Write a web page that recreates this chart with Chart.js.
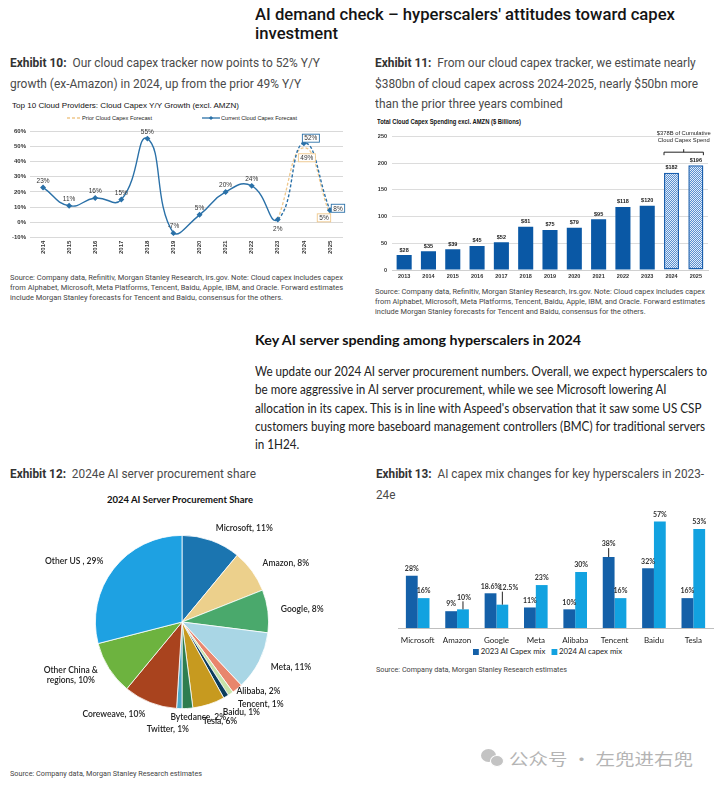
<!DOCTYPE html>
<html>
<head>
<meta charset="utf-8">
<title>AI demand check</title>
<script src="https://cdn.jsdelivr.net/npm/chart.js@4.4.1/dist/chart.umd.min.js"></script>
<style>
  html, body { margin: 0; padding: 0; background: #fff; }
  body { position: relative; width: 717px; height: 786px; overflow: hidden; color: #333; }
  .t { position: absolute; white-space: nowrap; transform-origin: 0 0; }
  .hd { font: 500 17px/18.5px Roboto, sans-serif; color: #141414; }
  .cap { font: 400 12.5px/20.5px Roboto, sans-serif; color: #4a4a4a; }
  .cap b { color: #333; font-weight: 700; }
  .src { font: 400 7px/10px Roboto, sans-serif; color: #444; }
  .ctitle { font: 400 7.5px/10px "Liberation Sans", Arial, sans-serif; color: #111; }
  .ctitle.b { font-weight: 700; font-size: 6.5px; }
  .kh { font: 700 14px/18px Lato, sans-serif; color: #111; }
  .para { font: 400 12.5px/18.3px Lato, sans-serif; color: #222; }
  .pt { font: 700 9px/12px Lato, sans-serif; color: #111; }
  .lg { font: 400 6px/8px "Liberation Sans", sans-serif; color: #222; }
  .lg13 { font: 400 8px/10px Lato, sans-serif; color: #222; }
  .wm { font: 400 16px/20px "Noto Sans CJK SC", sans-serif; color: #b4b4b4; }
  .sq { display: inline-block; width: 6px; height: 6px; margin-right: 2px; vertical-align: -0.5px; }
  canvas { position: absolute; }
  .dot { position: absolute; background: #c3c3c3; border-radius: 50%; }
</style>
</head>
<body>

<div class="t hd" style="left:255px;top:5px" data-w="420">AI demand check – hyperscalers' attitudes toward capex<br>investment</div>

<div class="t cap" style="left:10px;top:53px" data-w="310"><b>Exhibit 10:</b>&nbsp; Our cloud capex tracker now points to 52% Y/Y<br>growth (ex-Amazon) in 2024, up from the prior 49% Y/Y</div>
<div class="t cap" style="left:375px;top:53px" data-w="323"><b>Exhibit 11:</b>&nbsp; From our cloud capex tracker, we estimate nearly<br>$380bn of cloud capex across 2024-2025, nearly $50bn more<br>than the prior three years combined</div>

<div class="t ctitle" style="left:12px;top:101px" data-w="227">Top 10 Cloud Providers: Cloud Capex Y/Y Growth (excl. AMZN)</div>
<svg style="position:absolute;left:66px;top:114px" width="16" height="8"><line x1="1" y1="4" x2="15" y2="4" stroke="#efc88c" stroke-width="1.3" stroke-dasharray="3,2"/></svg>
<div class="t lg" style="left:82px;top:113.7px" data-w="70">Prior Cloud Capex Forecast</div>
<svg style="position:absolute;left:202px;top:114px" width="18" height="8"><line x1="0" y1="4" x2="18" y2="4" stroke="#2b71a8" stroke-width="1.3"/><rect x="7.5" y="2.5" width="3" height="3" fill="#2b71a8" transform="rotate(45 9 4)"/></svg>
<div class="t lg" style="left:221px;top:113.7px" data-w="76">Current Cloud Capex Forecast</div>
<canvas id="growthChart" width="360" height="145" style="left:0;top:120px"></canvas>

<div class="t ctitle b" style="left:377px;top:117px" data-w="144">Total Cloud Capex Spending excl. AMZN ($ Billions)</div>
<canvas id="spendChart" width="352" height="155" style="left:365px;top:128px"></canvas>

<div class="t src" style="left:10px;top:273px" data-w="333">Source: Company data, Refinitiv, Morgan Stanley Research, irs.gov. Note: Cloud capex includes capex<br>from Alphabet, Microsoft, Meta Platforms, Tencent, Baidu, Apple, IBM, and Oracle. Forward estimates<br>include Morgan Stanley forecasts for Tencent and Baidu, consensus for the others.</div>
<div class="t src" style="left:375px;top:286.7px" data-w="330">Source: Company data, Refinitiv, Morgan Stanley Research, irs.gov. Note: Cloud capex includes capex<br>from Alphabet, Microsoft, Meta Platforms, Tencent, Baidu, Apple, IBM, and Oracle. Forward estimates<br>include Morgan Stanley forecasts for Tencent and Baidu, consensus for the others.</div>

<div class="t kh" style="left:255px;top:331px" data-w="326">Key AI server spending among hyperscalers in 2024</div>
<div class="t para" style="left:255px;top:363px" data-w="452">We update our 2024 AI server procurement numbers. Overall, we expect hyperscalers to<br>be more aggressive in AI server procurement, while we see Microsoft lowering AI<br>allocation in its capex. This is in line with Aspeed's observation that it saw some US CSP<br>customers buying more baseboard management controllers (BMC) for traditional servers<br>in 1H24.</div>

<div class="t cap" style="left:10px;top:464px" data-w="246"><b>Exhibit 12:</b>&nbsp; 2024e AI server procurement share</div>
<div class="t pt" style="left:107px;top:494px" data-w="146">2024 AI Server Procurement Share</div>
<canvas id="shareChart" width="360" height="245" style="left:0;top:510px"></canvas>
<div class="t src" style="left:10px;top:769px" data-w="192">Source: Company data, Morgan Stanley Research estimates</div>

<div class="t cap" style="left:376px;top:464px" data-w="328"><b>Exhibit 13:</b>&nbsp; AI capex mix changes for key hyperscalers in 2023-<br>24e</div>
<canvas id="mixChart" width="347" height="145" style="left:370px;top:500px"></canvas>
<div class="t lg13" style="left:473px;top:646px" data-w="149"><span class="sq" style="background:#1460a8"></span>2023 AI Capex mix&nbsp;&nbsp;&nbsp;<span class="sq" style="background:#12a2e0"></span>2024 AI capex mix</div>
<div class="t src" style="left:376px;top:665px" data-w="191">Source: Company data, Morgan Stanley Research estimates</div>

<div class="dot" style="left:481px;top:749px;width:15px;height:13px"></div>
<div class="dot" style="left:490px;top:755px;width:12px;height:10px;border:1px solid #fff"></div>
<div class="t wm" style="left:509px;top:748px" data-w="184">公众号 · 左兜进右兜</div>

<script>
// Exhibit 10 – Y/Y growth
const growthYears = ['2014', '2015', '2016', '2017', '2018', '2019', '2020', '2021', '2022', '2023', '2024', '2025'];
const currentGrowth = [23, 11, 16, 15, 55, -7, 5, 20, 24, 2, 52, 8];
const priorGrowth = [null, null, null, null, null, null, null, null, null, 2, 49, 5];

// Exhibit 11 – total spend ($bn)
const spendYears = ['2013', '2014', '2015', '2016', '2017', '2018', '2019', '2020', '2021', '2022', '2023', '2024', '2025'];
const spendValues = [28, 35, 39, 45, 52, 81, 75, 79, 95, 118, 120, 182, 196];
const firstForecast = 11;

// Exhibit 12 – procurement share
const shareNames = ['Microsoft', 'Amazon', 'Google', 'Meta', 'Alibaba', 'Tencent', 'Baidu', 'Tesla', 'Bytedance', 'Twitter', 'Coreweave', 'Other China &\nregions', 'Other US '];
const shareValues = [11, 8, 8, 11, 2, 1, 1, 6, 2, 1, 10, 10, 29];
const shareColors = ['#1b75b0', '#ecd08c', '#4aa96c', '#a9d6e5', '#e8866d', '#c7e3a8', '#0d3d5c', '#c79a1f', '#2e7d4f', '#4ca9c9', '#a9431e', '#6db33f', '#1ea1e2'];

// Exhibit 13 – AI capex mix
const mixNames = ['Microsoft', 'Amazon', 'Google', 'Meta', 'Alibaba', 'Tencent', 'Baidu', 'Tesla'];
const mix2023 = [28, 9, 18.6, 11, 10, 38, 32, 16];
const mix2024 = [16, 10, 12.5, 23, 30, 16, 57, 53];

// label placement for exhibit 10
const PLACES = {
  above: { dx: 0, dy: -7 },
  below: { dx: 0, dy: 9 },
  boxUp: { dx: 7, dy: -5, box: true },
  boxRight: { dx: 8, dy: -2, box: true },
  boxDown: { dx: 3, dy: 10, box: true },
  boxDownLeft: { dx: -6, dy: 3, box: true },
};
const currentPlaces = ['above', 'above', 'above', 'above', 'above', 'above', 'above', 'above', 'above', 'below', 'boxUp', 'boxRight'];
const priorPlaces = [null, null, null, null, null, null, null, null, null, null, 'boxDown', 'boxDownLeft'];

// crowded pie labels near the bottom get shifted (index: [dx, dy])
const pieNudge = { 4: [-9, -7], 6: [-10, 5], 7: [-10, 5], 8: [10, -4], 9: [-11, 8] };

// raised labels with leader lines in exhibit 13 ("dataset-index": [dx, dy])
const mixNudge = { '0-5': [0, -6], '1-1': [1, -5], '1-2': [6, -10] };

const CUR = '#2b71a8';
const PRIOR = '#efc88c';

const growthLabels = {
  id: 'growthLabels',
  afterDatasetsDraw(chart) {
    const ctx = chart.ctx;
    ctx.save();
    ctx.font = '6.5px "Liberation Sans"';
    ctx.textAlign = 'center';
    ctx.textBaseline = 'middle';
    chart.data.datasets.forEach((ds, di) => {
      const places = di === 0 ? currentPlaces : priorPlaces;
      chart.getDatasetMeta(di).data.forEach((pt, i) => {
        const p = PLACES[places[i]];
        if (!p || ds.data[i] == null) return;
        const x = pt.x + p.dx, y = pt.y + p.dy;
        const txt = ds.data[i] + '%';
        if (p.box) {
          const w = ctx.measureText(txt).width + 4;
          ctx.fillStyle = '#fff';
          ctx.fillRect(x - w / 2, y - 4, w, 8);
          ctx.strokeStyle = ds.borderColor;
          ctx.lineWidth = 0.9;
          ctx.strokeRect(x - w / 2, y - 4, w, 8);
        }
        ctx.fillStyle = '#333';
        ctx.fillText(txt, x, y + 0.5);
      });
    });
    ctx.restore();
  }
};

new Chart(document.getElementById('growthChart'), {
  type: 'line',
  data: {
    labels: growthYears,
    datasets: [
      {
        label: 'Current Cloud Capex Forecast',
        data: currentGrowth,
        borderColor: CUR,
        backgroundColor: CUR,
        borderWidth: 1.4,
        tension: 0.5,
        pointStyle: 'rectRot',
        pointRadius: 2,
        segment: { borderDash: c => c.p0DataIndex >= 9 ? [3, 2] : undefined },
      },
      {
        label: 'Prior Cloud Capex Forecast',
        data: priorGrowth,
        borderColor: PRIOR,
        backgroundColor: PRIOR,
        borderWidth: 1.3,
        borderDash: [3, 2],
        tension: 0.5,
        pointRadius: 0,
      }
    ]
  },
  options: {
    responsive: false,
    animation: false,
    layout: { padding: { top: 11, right: 17, left: 0, bottom: 0 } },
    plugins: { legend: { display: false }, tooltip: { enabled: false } },
    scales: {
      x: {
        offset: true,
        grid: { display: false, drawTicks: false },
        border: { display: false },
        ticks: { minRotation: 90, maxRotation: 90, padding: 3, color: '#333', font: { family: 'Liberation Sans', size: 6, weight: 'bold' } },
        afterFit: s => { s.height = 27.3; }
      },
      y: {
        min: -10, max: 60,
        grid: { color: '#d9d9d9', drawTicks: false },
        border: { display: false },
        ticks: { stepSize: 10, padding: 4, color: '#333', callback: v => v + '%', font: { family: 'Liberation Sans', size: 6, weight: 'bold' } },
        afterFit: s => { s.width = 30; }
      }
    }
  },
  plugins: [growthLabels]
});

// Exhibit 11
function checkerPattern(ctx) {
  const c = document.createElement('canvas');
  c.width = 2; c.height = 2;
  const g = c.getContext('2d');
  g.fillStyle = '#e4eef9';
  g.fillRect(0, 0, 2, 2);
  g.fillStyle = '#5a8fd0';
  g.fillRect(0, 0, 1, 1);
  g.fillRect(1, 1, 1, 1);
  return ctx.createPattern(c, 'repeat');
}

const spendCanvas = document.getElementById('spendChart');
const hatch = checkerPattern(spendCanvas.getContext('2d'));

const spendExtras = {
  id: 'spendExtras',
  afterDatasetsDraw(chart) {
    const ctx = chart.ctx;
    const bars = chart.getDatasetMeta(0).data;
    ctx.save();
    ctx.font = 'bold 5.5px "Liberation Sans"';
    ctx.fillStyle = '#222';
    ctx.textAlign = 'center';
    ctx.textBaseline = 'middle';
    bars.forEach((b, i) => ctx.fillText('$' + spendValues[i], b.x, b.y - 5));

    // bracket over forecast years
    const a = bars[firstForecast], z = bars[bars.length - 1];
    const x1 = a.x - a.width / 2, x2 = z.x + z.width / 2, xm = (x1 + x2) / 2;
    const y = z.y - 13;
    ctx.strokeStyle = '#222';
    ctx.lineWidth = 1;
    ctx.beginPath();
    ctx.moveTo(x1, y + 3); ctx.lineTo(x1, y); ctx.lineTo(x2, y); ctx.lineTo(x2, y + 3);
    ctx.moveTo(xm, y); ctx.lineTo(xm, y - 3);
    ctx.stroke();
    const total = spendValues.slice(firstForecast).reduce((s, v) => s + v, 0);
    ctx.font = '5.8px "Liberation Sans"';
    ctx.fillText('$' + total + 'B of Cumulative', xm, y - 19);
    ctx.fillText('Cloud Capex Spend', xm, y - 12);
    ctx.restore();
  }
};

new Chart(spendCanvas, {
  type: 'bar',
  data: {
    labels: spendYears,
    datasets: [{
      data: spendValues,
      backgroundColor: spendValues.map((v, i) => i >= firstForecast ? hatch : '#0a58a5'),
      borderColor: spendValues.map((v, i) => i >= firstForecast ? '#1a5fae' : '#0a58a5'),
      borderWidth: spendValues.map((v, i) => i >= firstForecast ? 1.5 : 0),
      borderSkipped: false,
      barPercentage: 0.62,
      categoryPercentage: 1,
    }]
  },
  options: {
    responsive: false,
    animation: false,
    layout: { padding: { top: 4, right: 9, left: 0, bottom: 0 } },
    plugins: { legend: { display: false }, tooltip: { enabled: false } },
    scales: {
      x: {
        grid: { display: false, drawTicks: false },
        border: { color: '#d0d0d0' },
        ticks: { padding: 3, color: '#333', font: { family: 'Liberation Sans', size: 5.5, weight: 'bold' } },
        afterFit: s => { s.height = 13; }
      },
      y: {
        min: 0, max: 250,
        grid: { color: '#dcdcdc', drawTicks: false },
        border: { display: false },
        ticks: { stepSize: 50, padding: 5, color: '#333', font: { family: 'Liberation Sans', size: 5.5, weight: 'bold' } },
        afterFit: s => { s.width = 27; }
      }
    }
  },
  plugins: [spendExtras]
});

// Exhibit 12
const pieLabels = {
  id: 'pieLabels',
  afterDatasetsDraw(chart) {
    const ctx = chart.ctx;
    const arcs = chart.getDatasetMeta(0).data;
    ctx.save();
    ctx.font = '600 8.5px Lato';
    ctx.fillStyle = '#222';
    ctx.textBaseline = 'middle';
    arcs.forEach((arc, i) => {
      const mid = (arc.startAngle + arc.endAngle) / 2;
      const r = arc.outerRadius * 1.15;
      const n = pieNudge[i] || [0, 0];
      const x = arc.x + Math.cos(mid) * r + n[0];
      const y = arc.y + Math.sin(mid) * r + n[1];
      const lines = (shareNames[i] + ', ' + shareValues[i] + '%').split('\n');
      const w = Math.max(...lines.map(l => ctx.measureText(l).width));
      const c = Math.cos(mid);
      const left = c > 0.3 ? x : c < -0.3 ? x - w : x - w / 2;
      lines.forEach((l, k) => {
        const lw = ctx.measureText(l).width;
        ctx.fillText(l, left + (w - lw) / 2, y + (k - (lines.length - 1) / 2) * 10);
      });
    });
    ctx.restore();
  }
};

new Chart(document.getElementById('shareChart'), {
  type: 'pie',
  data: {
    labels: shareNames,
    datasets: [{ data: shareValues, backgroundColor: shareColors, borderColor: '#fff', borderWidth: 0.8 }]
  },
  options: {
    responsive: false,
    animation: false,
    layout: { padding: { left: 95, right: 91, top: 25, bottom: 46 } },
    plugins: { legend: { display: false }, tooltip: { enabled: false } }
  },
  plugins: [pieLabels]
});

// Exhibit 13
const mixLabels = {
  id: 'mixLabels',
  afterDatasetsDraw(chart) {
    const ctx = chart.ctx;
    ctx.save();
    ctx.font = 'bold 7px Lato';
    ctx.fillStyle = '#333';
    ctx.strokeStyle = '#222';
    ctx.lineWidth = 1;
    ctx.textAlign = 'center';
    ctx.textBaseline = 'middle';
    chart.data.datasets.forEach((ds, di) => {
      chart.getDatasetMeta(di).data.forEach((bar, i) => {
        const n = mixNudge[di + '-' + i] || [0, 0];
        const x = bar.x + n[0], y = bar.y - 7 + n[1];
        ctx.fillText(ds.data[i] + '%', x, y);
        if (n[1] !== 0) {
          ctx.beginPath();
          ctx.moveTo(bar.x, y + 4);
          ctx.lineTo(bar.x, bar.y);
          ctx.stroke();
        }
      });
    });
    ctx.restore();
  }
};

new Chart(document.getElementById('mixChart'), {
  type: 'bar',
  data: {
    labels: mixNames,
    datasets: [
      { label: '2023 AI Capex mix', data: mix2023, backgroundColor: '#1460a8', barPercentage: 1, categoryPercentage: 0.6 },
      { label: '2024 AI capex mix', data: mix2024, backgroundColor: '#12a2e0', barPercentage: 1, categoryPercentage: 0.6 }
    ]
  },
  options: {
    responsive: false,
    animation: false,
    layout: { padding: { top: 16, right: 4, left: 28, bottom: 0 } },
    plugins: { legend: { display: false }, tooltip: { enabled: false } },
    scales: {
      x: {
        grid: { display: false, drawTicks: false },
        border: { color: '#bfbfbf' },
        ticks: { padding: 8, autoSkip: false, maxRotation: 0, minRotation: 0, color: '#222', font: { family: 'Lato', size: 8 } },
        afterFit: s => { s.height = 17; }
      },
      y: { display: false, min: 0, max: 60 }
    }
  },
  plugins: [mixLabels]
});

// squeeze text blocks to the measured widths
document.querySelectorAll('[data-w]').forEach(el => {
  const w = el.getBoundingClientRect().width;
  el.style.transform = 'scaleX(' + (el.dataset.w / w) + ')';
});
</script>
</body>
</html>
